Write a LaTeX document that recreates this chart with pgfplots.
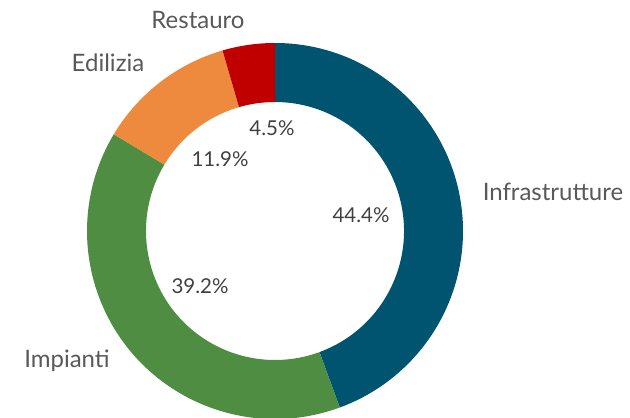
\documentclass[border=0pt]{standalone}
\usepackage{pgfplots}
\pgfplotsset{compat=1.18}
\usepackage{pgfplotstable}
\usepackage{fontspec}
\setmainfont{Lato}
\definecolor{cInf}{HTML}{01546F}
\definecolor{cImp}{HTML}{4E8D42}
\definecolor{cEdi}{HTML}{ED8A3E}
\definecolor{cRes}{HTML}{C00000}
\definecolor{lab}{HTML}{595959}
\definecolor{pct}{HTML}{404040}
% name, value (percent), colour, label x, label y, pct x, pct y (pixel units, y from top)
\pgfplotstableread[col sep=comma]{
name,value,col,lx,ly,px,py
Infrastrutture,44.4,cInf,553,192,361,215
Impianti,39.2,cImp,67,361,200,286
Edilizia,11.9,cEdi,108,63,220,159
Restauro,4.5,cRes,198,20,272,128
}\pietable
\begin{document}
\begin{tikzpicture}
\begin{axis}[
  x=1pt, y=1pt, disabledatascaling,
  xmin=0, xmax=630, ymin=0, ymax=418,
  hide axis, clip=true,
  /pgf/number format/assume math mode=true,
]
\path (axis cs:0,0) rectangle (axis cs:630,418);
\pgfplotstablegetrowsof{\pietable}
\pgfmathtruncatemacro{\nrows}{\pgfplotsretval-1}
\def\cx{275}\def\cy{187}\def\Ro{188}\def\Ri{129}
\gdef\startang{90}
\pgfplotsforeachungrouped \i in {0,...,\nrows}{
  \pgfplotstablegetelem{\i}{value}\of{\pietable}\let\val\pgfplotsretval
  \pgfplotstablegetelem{\i}{col}\of{\pietable}\let\col\pgfplotsretval
  \pgfplotstablegetelem{\i}{name}\of{\pietable}\let\nm\pgfplotsretval
  \pgfplotstablegetelem{\i}{lx}\of{\pietable}\let\lx\pgfplotsretval
  \pgfplotstablegetelem{\i}{ly}\of{\pietable}\let\ly\pgfplotsretval
  \pgfplotstablegetelem{\i}{px}\of{\pietable}\let\px\pgfplotsretval
  \pgfplotstablegetelem{\i}{py}\of{\pietable}\let\py\pgfplotsretval
  \pgfmathsetmacro{\endang}{\startang-3.6*\val}
  \pgfmathsetmacro{\lyy}{418-\ly}
  \pgfmathsetmacro{\pyy}{418-\py}
  \edef\temp{\noexpand\fill[\col] (axis cs:\cx,\cy) ++(\startang:\Ro pt)
     arc[start angle=\startang, end angle=\endang, radius=\Ro pt]
     -- ++(\endang:-\Ro pt+\Ri pt)
     arc[start angle=\endang, end angle=\startang, radius=\Ri pt] -- cycle;
   \noexpand\node[text=lab, font=\noexpand\fontsize{24}{28}\noexpand\selectfont] at (axis cs:\lx,\lyy) {\nm};
   \noexpand\node[text=pct, font=\noexpand\fontsize{20.5}{24}\noexpand\selectfont] at (axis cs:\px,\pyy) {\val\noexpand\%};}
  \temp
  \xdef\startang{\endang}
}
\end{axis}
\end{tikzpicture}
\end{document}
